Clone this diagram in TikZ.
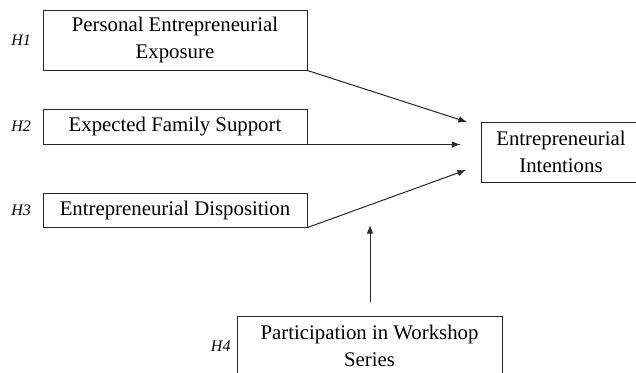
\documentclass[tikz,border=0pt]{standalone}
\usepackage{fontspec}
\setmainfont{Liberation Serif}
\usetikzlibrary{positioning}

\begin{document}
\begin{tikzpicture}[->,>=latex,x=0.5pt,y=-0.5pt,font=\fontsize{10.4}{13.5}\selectfont,line width=0.5pt]

    \tikzstyle{box}=[draw=black!85,line width=0.5pt,minimum width=132pt,align=center,inner sep=0pt]
    \tikzstyle{hyp}=[inner sep=0pt,font=\fontsize{8}{10}\selectfont\itshape]

    \useasboundingbox (0,0) rectangle (636,372);

    \node[box,minimum height=30pt]          (exp)     at (175,40)  {Personal Entrepreneurial\\Exposure};
    \node[box,minimum height=17.5pt,below=19pt of exp] (fam) {Expected Family Support};
    \node[box,minimum height=17pt,below=24pt of fam]   (disp) {Entrepreneurial Disposition};
    \node[box,minimum width=80pt,minimum height=30pt] (int) at (561,152) {Entrepreneurial\\Intentions};
    \node[box,minimum width=132.5pt,minimum height=30pt] (work) at (369.5,346) {Participation in Workshop\\Series};

    \node[hyp,left=5.5pt of exp]  (h1) {H1};
    \node[hyp,left=5.5pt of fam]  (h2) {H2};
    \node[hyp,left=5.5pt of disp] (h3) {H3};
    \node[hyp,left=2.75pt of work] (h4) {H4};

    \coordinate (in1) at (467,122);
    \coordinate (in2) at ([xshift=76.5pt]fam.south east);
    \coordinate (in3) at (466,170);
    \coordinate (up) at (370,302);
    \coordinate (upend) at (370,225);

    \draw[black!85] (exp.south east)  -- (in1);
    \draw[black!85] (fam.south east)  -- (in2);
    \draw[black!85] (disp.south east) -- (in3);
    \draw[black!85] (up) -- (upend);

\end{tikzpicture}
\end{document}
